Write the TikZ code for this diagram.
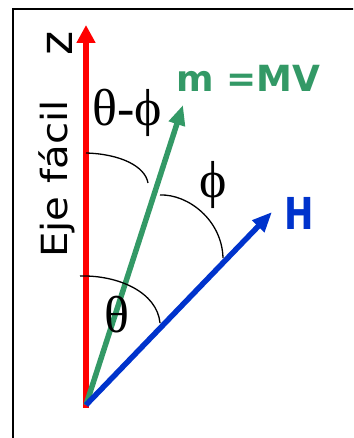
\documentclass[tikz,border=0pt]{standalone}
\usepackage{fontspec}
\setmainfont{DejaVu Sans}
\newfontfamily\grk{Liberation Serif}
\usetikzlibrary{arrows.meta}
\definecolor{zred}{HTML}{FF0000}
\definecolor{mgreen}{HTML}{339966}
\definecolor{hblue}{HTML}{0033CC}
\begin{document}
\begin{tikzpicture}[x=1pt,y=1pt,
  vec/.style={line width=5.5pt},
  anglearc/.style={line width=1.3pt, black},
  grklabel/.style={font=\grk\fontsize{52}{56}\selectfont, inner sep=0pt},
  sidelabel/.style={inner sep=0pt, rotate=90}]
\useasboundingbox (0,0) rectangle (353,438);
\clip (0,0) rectangle (353,438);
% frame
\draw[line width=2pt] (13,-10) -- (13,429) -- (370,429);
% vectors
\coordinate (O) at (86,33);
\coordinate (Ztip) at (86,413);
\coordinate (Mtip) at (183,333);
\coordinate (Htip) at (272,226);
\draw[vec, zred, -{Triangle[length=18pt,width=18pt]}] (86,30) -- (Ztip);
\draw[vec, mgreen, -{Triangle[length=20pt,width=16pt]}] (O) -- (Mtip);
\draw[vec, hblue, -{Triangle[length=20pt,width=16pt]}] (O) -- (Htip);
% angle arcs
\coordinate (a1s) at (86,285);  \coordinate (a1e) at (148,255);
\coordinate (a2s) at (160,243); \coordinate (a2e) at (223,180);
\coordinate (a3s) at (80,162);  \coordinate (a3e) at (160,115);
\draw[anglearc] (a1s) .. controls (120,284) and (145,272) .. (a1e);
\draw[anglearc] (a2s) .. controls (188,244) and (222,218) .. (a2e);
\draw[anglearc] (a3s) .. controls (118,163) and (157,146) .. (a3e);
% labels
\node[grklabel] (tmp) at (127.5,325) {θ-ϕ};
\node[grklabel] (phi) at (213,253) {ϕ};
\node[grklabel] (th) at (117,123) {θ};
\node[font=\bfseries\fontsize{36}{40}\selectfont, text=mgreen, inner sep=0pt] (mlab) at (248.5,359.5) {m =MV};
\node[font=\bfseries\fontsize{44}{48}\selectfont, text=hblue, inner sep=0pt] (hlab) at (299,224.5) {\scalebox{0.8}[1]{H}};
\node[sidelabel, anchor=base, font=\fontsize{36}{40}\selectfont] (eje) at (67,259) {\scalebox{1.12}[1]{Eje fácil}};
\node[sidelabel, anchor=center, font=\fontsize{46}{50}\selectfont] (zlab) at (60,394.5) {z};
\end{tikzpicture}
\end{document}
